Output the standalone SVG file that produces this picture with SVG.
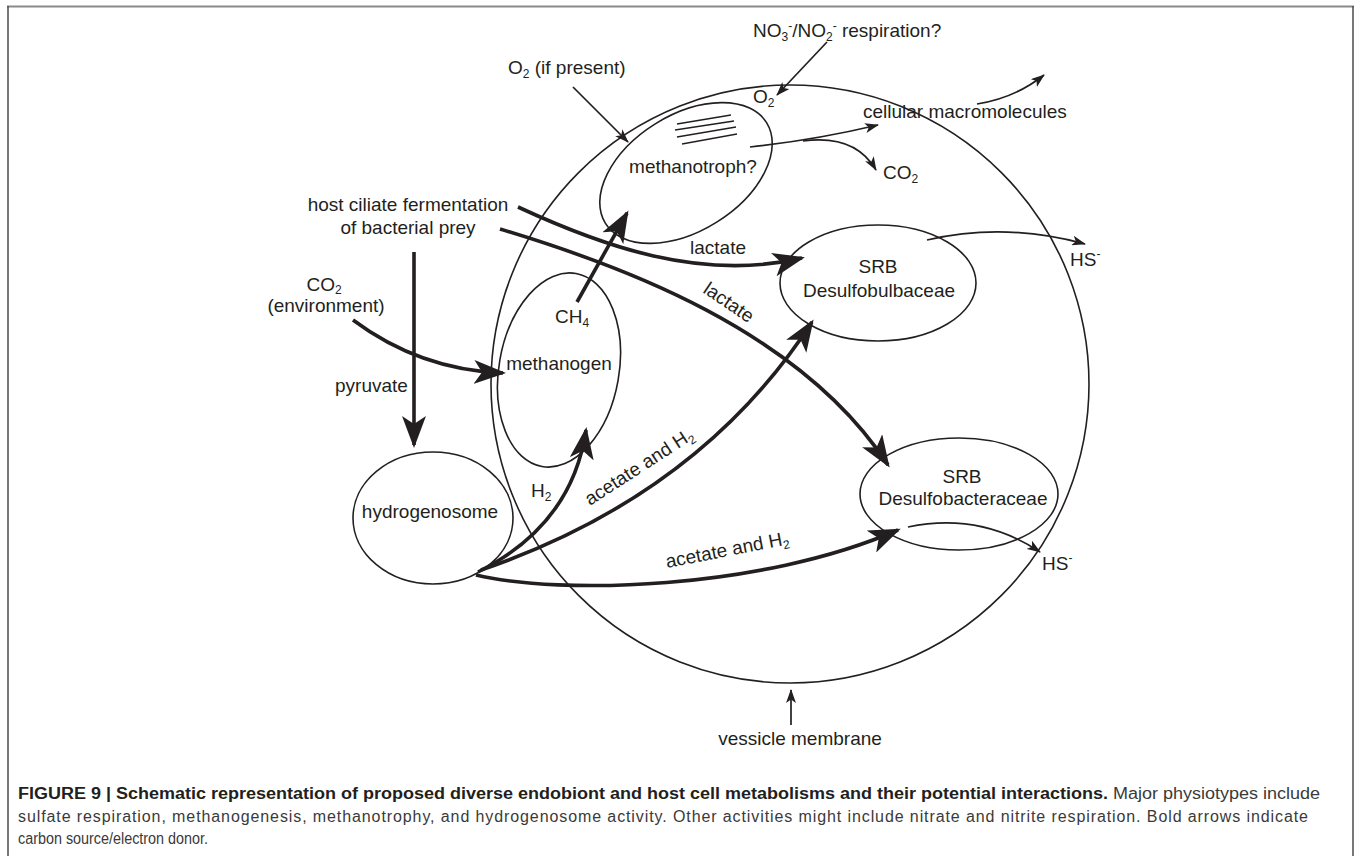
<svg xmlns="http://www.w3.org/2000/svg" width="1357" height="856" viewBox="0 0 1357 856">
<style>
  text { font-family: "Liberation Sans", Arial, sans-serif; fill: #231f20; }
  .lbl { font-size: 19px; }
  .mid { text-anchor: middle; }
  .sub { font-size: 12px; }
  .node { fill: none; stroke: #231f20; stroke-width: 1.6; }
  .hatch { fill: none; stroke: #231f20; stroke-width: 1.3; }
  .thick { fill: none; stroke: #231f20; stroke-width: 3.6; marker-end: url(#big); }
  .thin { fill: none; stroke: #231f20; stroke-width: 1.7; marker-end: url(#small); }
  .cap { font-size: 16px; fill: #3a3a3a; }
  .capb { font-weight: bold; fill: #231f20; }
</style>
<defs>
  <marker id="big" markerUnits="userSpaceOnUse" viewBox="0 0 32 24" markerWidth="32" markerHeight="24" refX="29" refY="12" orient="auto">
    <path d="M0,0 L32,12 L0,24 L8,12 Z" fill="#231f20"/>
  </marker>
  <marker id="small" markerUnits="userSpaceOnUse" viewBox="0 0 14 10" markerWidth="14" markerHeight="10" refX="13" refY="5" orient="auto">
    <path d="M0,0 L14,5 L0,10 L3.5,5 Z" fill="#231f20"/>
  </marker>
</defs>

<rect x="0" y="0" width="1357" height="856" fill="#ffffff"/>
<g id="frame" fill="none">
  <line x1="7" y1="6.5" x2="1354" y2="6.5" stroke="#8a8a8a" stroke-width="2"/>
  <line x1="8" y1="6" x2="8" y2="856" stroke="#4a4a4a" stroke-width="1.5"/>
  <line x1="1353" y1="6" x2="1353" y2="856" stroke="#4a4a4a" stroke-width="1.5"/>
</g>

<g id="vessel">
  <circle class="node" cx="790" cy="384" r="299"/>
</g>

<g id="methanotroph">
  <ellipse class="node" cx="686" cy="173" rx="95" ry="58" transform="rotate(-32 686 173)"/>
  <line class="hatch" x1="677" y1="124" x2="731" y2="115"/>
  <line class="hatch" x1="675" y1="130" x2="734" y2="121"/>
  <line class="hatch" x1="677" y1="137" x2="736" y2="127"/>
  <line class="hatch" x1="682" y1="144" x2="737" y2="134"/>
  <text class="lbl mid" x="693" y="173">methanotroph?</text>
</g>

<g id="methanogen">
  <ellipse class="node" cx="559" cy="370" rx="60" ry="98" transform="rotate(10 559 370)"/>
  <text class="lbl mid" x="559" y="370">methanogen</text>
  <text class="lbl" x="555" y="323">CH<tspan class="sub" dy="4">4</tspan></text>
</g>

<g id="hydrogenosome">
  <ellipse class="node" cx="433" cy="518" rx="80" ry="66"/>
  <text class="lbl mid" x="430" y="518">hydrogenosome</text>
</g>

<g id="srb-desulfobulbaceae">
  <ellipse class="node" cx="878" cy="283" rx="98" ry="58"/>
  <text class="lbl mid" x="878" y="273">SRB</text>
  <text class="lbl mid" x="879" y="297">Desulfobulbaceae</text>
</g>

<g id="srb-desulfobacteraceae">
  <ellipse class="node" cx="959" cy="494" rx="99" ry="56"/>
  <text class="lbl mid" x="962" y="483">SRB</text>
  <text class="lbl mid" x="963" y="505">Desulfobacteraceae</text>
</g>

<g id="host-fermentation">
  <text class="lbl mid" x="408" y="211">host ciliate fermentation</text>
  <text class="lbl mid" x="408" y="234">of bacterial prey</text>
</g>

<g id="co2-environment">
  <text class="lbl mid" x="324" y="291">CO<tspan class="sub" dy="3">2</tspan></text>
  <text class="lbl mid" x="326" y="312">(environment)</text>
</g>

<g id="o2-source">
  <text class="lbl" x="508" y="74">O<tspan class="sub" dy="4">2</tspan><tspan dy="-4"> (if present)</tspan></text>
</g>

<g id="nitrate-respiration">
  <text class="lbl" x="753" y="37">NO<tspan class="sub" dy="4">3</tspan><tspan class="sub" dy="-11">-</tspan><tspan dy="7">/NO</tspan><tspan class="sub" dy="4">2</tspan><tspan class="sub" dy="-11">-</tspan><tspan dy="7"> respiration?</tspan></text>
</g>

<g id="cellular-macromolecules">
  <text class="lbl" x="863" y="118">cellular macromolecules</text>
</g>

<g id="co2-out">
  <text class="lbl" x="883" y="179">CO<tspan class="sub" dy="4">2</tspan></text>
</g>

<g id="hs-upper">
  <text class="lbl" x="1070" y="266">HS<tspan class="sub" dy="-8">-</tspan></text>
</g>

<g id="hs-lower">
  <text class="lbl" x="1042" y="570">HS<tspan class="sub" dy="-8">-</tspan></text>
</g>

<g id="vessicle-membrane">
  <text class="lbl mid" x="800" y="745">vessicle membrane</text>
</g>

<g id="connectors">
  <path class="thin" d="M573,87 L628,142"/>
  <path class="thin" d="M827,42 L777,95"/>
  <path class="thin" d="M750,147 Q815,140 878,125"/>
  <path class="thin" d="M803,141 Q855,134 876,170"/>
  <path class="thin" d="M977,104 Q1015,98 1044,75"/>
  <path class="thin" d="M927,240 Q1005,222 1085,244"/>
  <path class="thin" d="M908,527 Q980,512 1040,552"/>
  <path class="thin" d="M791,725 L791,690"/>
  <path class="thick" d="M414,252 L414,445"/>
  <path class="thick" d="M353,320 Q420,370 503,373"/>
  <path class="thick" d="M577,302 L627,213"/>
  <path class="thick" d="M518,207 C600,245 700,282 802,258"/>
  <path class="thick" d="M500,229 C620,265 800,330 888,465"/>
  <path class="thick" d="M478,572 Q572,525 586,430"/>
  <path class="thick" d="M481,570 Q700,495 812,322"/>
  <path class="thick" d="M476,575 C560,595 760,590 898,530"/>
  <text class="lbl" x="753" y="103">O<tspan class="sub" dy="4">2</tspan></text>
  <text class="lbl" x="335" y="392">pyruvate</text>
  <text class="lbl" x="690" y="254">lactate</text>
  <text class="lbl" transform="translate(702,292) rotate(34)">lactate</text>
  <text class="lbl" x="531" y="497">H<tspan class="sub" dy="4">2</tspan></text>
  <text class="lbl" transform="translate(590,506) rotate(-33)">acetate and H<tspan class="sub" dy="4">2</tspan></text>
  <text class="lbl" transform="translate(667,568) rotate(-11)">acetate and H<tspan class="sub" dy="4">2</tspan></text>
</g>

<g id="caption">
  <text class="cap" x="18" y="799" textLength="1302" lengthAdjust="spacingAndGlyphs"><tspan class="capb">FIGURE 9 | Schematic representation of proposed diverse endobiont and host cell metabolisms and their potential interactions.</tspan> Major physiotypes include</text>
  <text class="cap" x="18" y="822" textLength="1290" lengthAdjust="spacing">sulfate respiration, methanogenesis, methanotrophy, and hydrogenosome activity. Other activities might include nitrate and nitrite respiration. Bold arrows indicate</text>
  <text class="cap" x="18" y="844" textLength="190" lengthAdjust="spacingAndGlyphs">carbon source/electron donor.</text>
</g>
</svg>
